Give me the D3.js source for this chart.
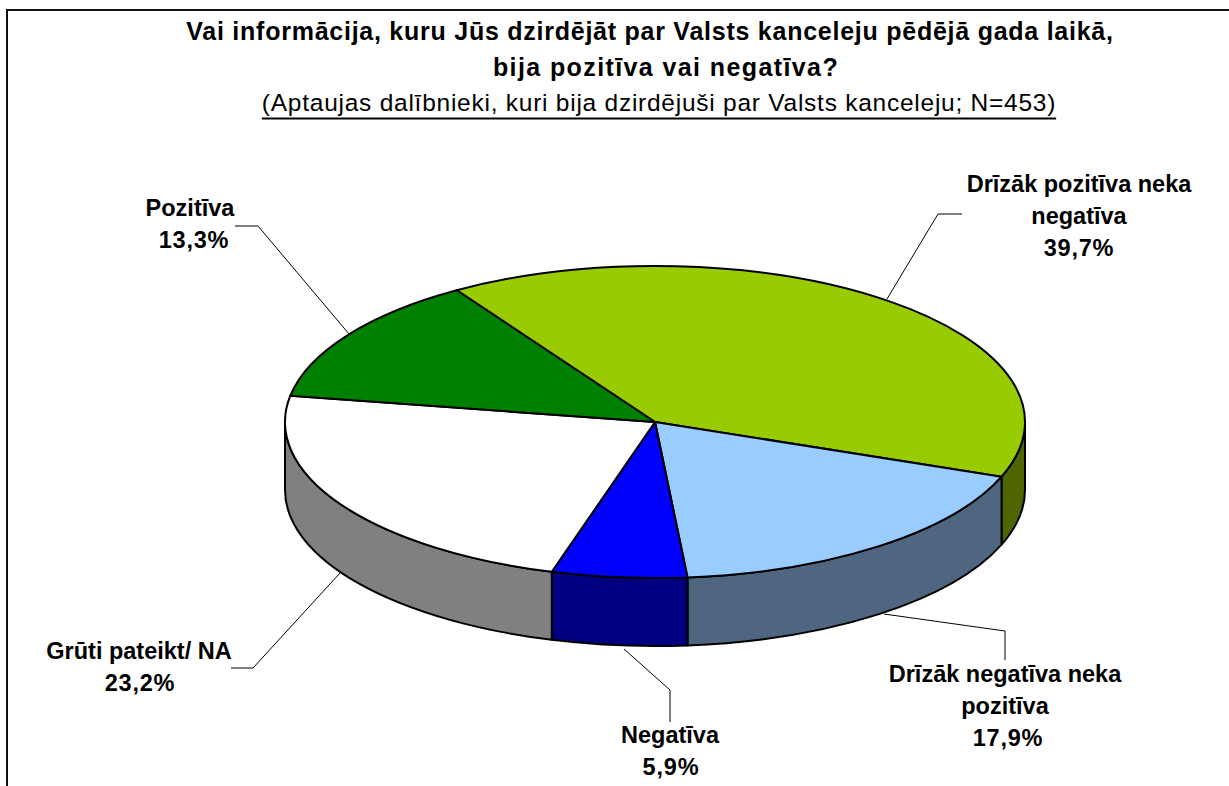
<!DOCTYPE html>
<html lang="en">
<head>
<meta charset="UTF-8">
<title>Valsts kanceleja</title>
<script src="https://d3js.org/d3.v7.min.js"></script>
<style>
    html, body { margin: 0; padding: 0; background: #fff; }
    svg { display: block; }
    text { font-family: "Liberation Sans", Arial, sans-serif; fill: #000; }
    .lbl { font-size: 23.5px; font-weight: bold; text-anchor: middle; }
    .leader { fill: none; stroke: #000; stroke-width: 1; }
</style>
</head>
<body>
<script>
    var categories = ["Drīzāk pozitīva neka negatīva", "Drīzāk negatīva neka pozitīva", "Negatīva", "Grūti pateikt/ NA", "Pozitīva"];
    var values = [39.7, 17.9, 5.9, 23.2, 13.3];
    var topColors = ["#99cc00", "#99ccff", "#0000ff", "#ffffff", "#008000"];
    var sideColors = ["#4f6600", "#4f6680", "#000080", "#808080", "#004000"];
    var labelLines = [["Drīzāk pozitīva neka", "negatīva"], ["Drīzāk negatīva neka", "pozitīva"], ["Negatīva"], ["Grūti pateikt/ NA"], ["Pozitīva"]];
    var percentLabels = ["39,7%", "17,9%", "5,9%", "23,2%", "13,3%"];

    var W = 1229, H = 786;
    var cx = 655, cy = 422, rx = 370, ry = 156, depth = 68;
    var startDeg = -32.4;

    var svg = d3.select("body").append("svg").attr("width", W).attr("height", H);

    // chart frame, runs off right and bottom of the picture
    svg.append("path").attr("d", "M7," + H + "V10H" + W).attr("fill", "none").attr("stroke", "#111").attr("stroke-width", 2);

    // title
    var title = svg.append("g").attr("text-anchor", "middle");
    title.append("text").attr("x", 650).attr("y", 40).attr("font-size", 25).attr("font-weight", "bold").attr("letter-spacing", 0.75)
        .text("Vai informācija, kuru Jūs dzirdējāt par Valsts kanceleju pēdējā gada laikā,");
    title.append("text").attr("x", 666).attr("y", 76).attr("font-size", 25).attr("font-weight", "bold").attr("letter-spacing", 1.4)
        .text("bija pozitīva vai negatīva?");
    var sub = title.append("text").attr("x", 659).attr("y", 111).attr("font-size", 24.5).attr("letter-spacing", 0.75)
        .text("(Aptaujas dalībnieki, kuri bija dzirdējuši par Valsts kanceleju; N=453)");

    // underline sits lower and heavier than the browser's own text-decoration
    var subBox = sub.node().getBBox();
    svg.append("line").attr("x1", subBox.x).attr("x2", subBox.x + subBox.width)
        .attr("y1", 118.5).attr("y2", 118.5).attr("stroke", "#000").attr("stroke-width", 2);

    var pie = d3.pie().sort(null)
        .startAngle(startDeg * Math.PI / 180)
        .endAngle((startDeg + 360) * Math.PI / 180);
    var slices = pie(values);

    // angle is clockwise from the top of the ellipse
    function px(a) { return cx + rx * Math.sin(a); }
    function py(a) { return cy - ry * Math.cos(a); }

    function topPath(d) {
        var large = d.endAngle - d.startAngle > Math.PI ? 1 : 0;
        return "M" + cx + "," + cy + "L" + px(d.startAngle) + "," + py(d.startAngle) +
            "A" + rx + "," + ry + " 0 " + large + " 1 " + px(d.endAngle) + "," + py(d.endAngle) + "Z";
    }

    // only the front half of the rim shows (90deg to 270deg)
    function sidePath(d) {
        var a0 = d.startAngle, a1 = d.endAngle;
        var lo = Math.PI / 2, hi = 3 * Math.PI / 2;
        var s0 = Math.max(a0, lo), s1 = Math.min(a1, hi);
        if (s1 <= s0) return null;
        return "M" + px(s0) + "," + py(s0) +
            "A" + rx + "," + ry + " 0 0 1 " + px(s1) + "," + py(s1) +
            "V" + (py(s1) + depth) +
            "A" + rx + "," + ry + " 0 0 0 " + px(s0) + "," + (py(s0) + depth) + "Z";
    }

    var pieG = svg.append("g").attr("stroke", "#000").attr("stroke-width", 2).attr("stroke-linejoin", "round");

    pieG.selectAll("path.side").data(slices).enter()
        .filter(function (d) { return sidePath(d) !== null; })
        .append("path").attr("class", "side")
        .attr("d", sidePath)
        .attr("fill", function (d) { return sideColors[d.index]; });

    pieG.selectAll("path.top").data(slices).enter()
        .append("path").attr("class", "top")
        .attr("d", topPath)
        .attr("fill", function (d) { return topColors[d.index]; });

    // leader lines: label end, elbow, then the point on the pie
    var leaders = [
        [[962, 214], [938, 214], [887, 299]],
        [[1005, 660], [1005, 631], [884, 614]],
        [[670, 722], [670, 690], [624, 649]],
        [[231, 668], [253, 668], [340, 573]],
        [[235, 226], [258, 226], [349, 334]]
    ];
    svg.selectAll("path.leader").data(leaders).enter()
        .append("path").attr("class", "leader").attr("d", d3.line());

    // data labels, first baseline given per slice
    var labelX = [1079, 1005, 670, 139, 190];
    var percentX = [1079, 1008, 671, 140, 194];
    var labelY = [192, 682, 743, 659, 216];
    var lineGap = 32;
    var labels = svg.append("g");
    categories.forEach(function (c, i) {
        labelLines[i].forEach(function (t, j) {
            labels.append("text").attr("class", "lbl")
                .attr("x", labelX[i]).attr("y", labelY[i] + j * lineGap).text(t);
        });
        labels.append("text").attr("class", "lbl").attr("letter-spacing", 0.8)
            .attr("x", percentX[i]).attr("y", labelY[i] + labelLines[i].length * lineGap)
            .text(percentLabels[i]);
    });
</script>
</body>
</html>
